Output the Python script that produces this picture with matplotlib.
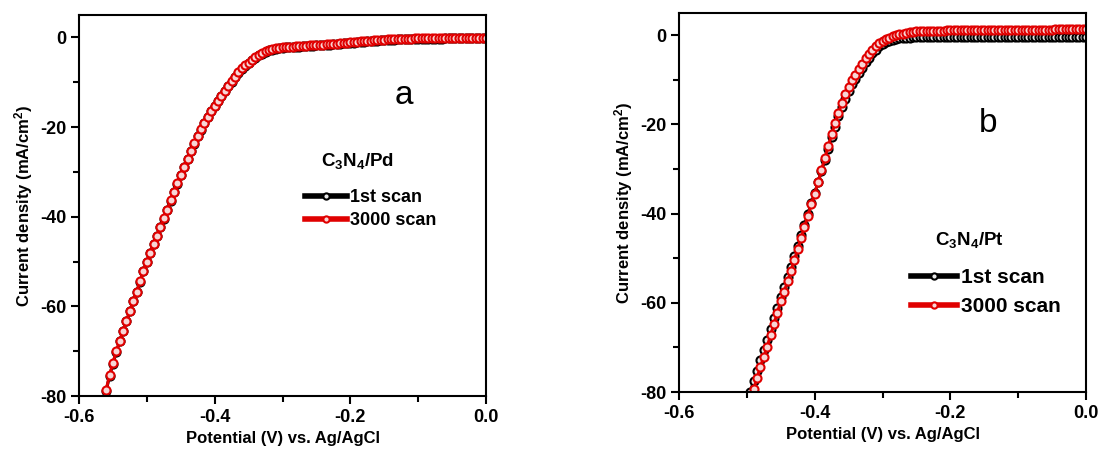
import numpy as np
import matplotlib
matplotlib.use("Agg")
import matplotlib.pyplot as plt

plt.rcParams['font.family'] = ['Liberation Sans', 'DejaVu Sans']
plt.rcParams['font.weight'] = 'bold'
plt.rcParams['mathtext.fontset'] = 'custom'
plt.rcParams['mathtext.rm'] = 'Liberation Sans:bold'
plt.rcParams['mathtext.bf'] = 'Liberation Sans:bold'
plt.rcParams['mathtext.it'] = 'Liberation Sans:bold:italic'
plt.rcParams['axes.unicode_minus'] = False

# ---------------- data: panel a (C3N4/Pd) ----------------
pot_a = [-0.560, -0.555, -0.550, -0.545, -0.540, -0.535, -0.530, -0.525, -0.520, -0.515,
         -0.510, -0.505, -0.500, -0.495, -0.490, -0.485, -0.480, -0.475, -0.470, -0.465,
         -0.460, -0.455, -0.450, -0.445, -0.440, -0.435, -0.430, -0.425, -0.420, -0.415,
         -0.410, -0.405, -0.400, -0.395, -0.390, -0.385, -0.380, -0.375, -0.370, -0.365,
         -0.360, -0.355, -0.350, -0.345, -0.340, -0.335, -0.330, -0.325, -0.320, -0.315,
         -0.310, -0.305, -0.300, -0.295, -0.290, -0.285, -0.280, -0.275, -0.270, -0.265,
         -0.260, -0.255, -0.250, -0.245, -0.240, -0.235, -0.230, -0.225, -0.220, -0.215,
         -0.210, -0.205, -0.200, -0.195, -0.190, -0.185, -0.180, -0.175, -0.170, -0.165,
         -0.160, -0.155, -0.150, -0.145, -0.140, -0.135, -0.130, -0.125, -0.120, -0.115,
         -0.110, -0.105, -0.100, -0.095, -0.090, -0.085, -0.080, -0.075, -0.070, -0.065,
         -0.060, -0.055, -0.050, -0.045, -0.040, -0.035, -0.030, -0.025, -0.020, -0.015,
         -0.010, -0.005, 0.000]

scan3000_a = [-78.6, -75.4, -72.6, -70.0, -67.7, -65.4, -63.2, -61.0, -58.8, -56.7,
              -54.4, -52.1, -50.1, -48.0, -46.1, -44.2, -42.3, -40.4, -38.4, -36.3,
              -34.4, -32.5, -30.6, -28.8, -27.1, -25.3, -23.6, -22.0, -20.5, -19.0,
              -17.7, -16.4, -15.2, -14.1, -13.0, -11.9, -10.8, -9.8, -8.8, -7.8,
              -6.9, -6.2, -5.6, -5.0, -4.4, -3.9, -3.5, -3.1, -2.8, -2.6,
              -2.4, -2.3, -2.2, -2.15, -2.10, -2.05, -2.00, -1.95, -1.90, -1.85,
              -1.80, -1.75, -1.70, -1.65, -1.60, -1.55, -1.50, -1.45, -1.40, -1.32,
              -1.25, -1.18, -1.10, -1.04, -0.98, -0.91, -0.85, -0.79, -0.72, -0.66,
              -0.60, -0.55, -0.50, -0.46, -0.42, -0.39, -0.36, -0.33, -0.30, -0.28,
              -0.26, -0.24, -0.22, -0.21, -0.20, -0.19, -0.18, -0.17, -0.16, -0.15,
              -0.14, -0.13, -0.12, -0.11, -0.10, -0.09, -0.08, -0.07, -0.06, -0.05,
              -0.04, -0.03, -0.02]

scan1_a = [-78.8, -75.6, -72.8, -70.2, -67.8, -65.5, -63.3, -61.1, -58.9, -56.8,
           -54.5, -52.2, -50.2, -48.1, -46.2, -44.3, -42.4, -40.5, -38.5, -36.4,
           -34.5, -32.6, -30.7, -28.9, -27.2, -25.4, -23.7, -22.1, -20.6, -19.1,
           -17.8, -16.5, -15.3, -14.2, -13.1, -12.0, -10.9, -9.9, -8.9, -7.9,
           -7.0, -6.3, -5.7, -5.1, -4.5, -4.0, -3.6, -3.2, -2.9, -2.7,
           -2.5, -2.4, -2.3, -2.25, -2.20, -2.15, -2.10, -2.05, -2.00, -1.95,
           -1.90, -1.85, -1.80, -1.75, -1.70, -1.65, -1.60, -1.55, -1.50, -1.42,
           -1.35, -1.28, -1.20, -1.14, -1.08, -1.01, -0.95, -0.89, -0.82, -0.76,
           -0.70, -0.65, -0.60, -0.56, -0.52, -0.49, -0.46, -0.43, -0.40, -0.38,
           -0.36, -0.34, -0.32, -0.31, -0.30, -0.29, -0.28, -0.27, -0.26, -0.25,
           -0.24, -0.23, -0.22, -0.21, -0.20, -0.19, -0.18, -0.17, -0.16, -0.15,
           -0.14, -0.13, -0.12]

# ---------------- data: panel b (C3N4/Pt) ----------------
pot_b = [-0.495, -0.490, -0.485, -0.480, -0.475, -0.470, -0.465, -0.460, -0.455, -0.450,
         -0.445, -0.440, -0.435, -0.430, -0.425, -0.420, -0.415, -0.410, -0.405, -0.400,
         -0.395, -0.390, -0.385, -0.380, -0.375, -0.370, -0.365, -0.360, -0.355, -0.350,
         -0.345, -0.340, -0.335, -0.330, -0.325, -0.320, -0.315, -0.310, -0.305, -0.300,
         -0.295, -0.290, -0.285, -0.280, -0.275, -0.270, -0.265, -0.260, -0.255, -0.250,
         -0.245, -0.240, -0.235, -0.230, -0.225, -0.220, -0.215, -0.210, -0.205, -0.200,
         -0.195, -0.190, -0.185, -0.180, -0.175, -0.170, -0.165, -0.160, -0.155, -0.150,
         -0.145, -0.140, -0.135, -0.130, -0.125, -0.120, -0.115, -0.110, -0.105, -0.100,
         -0.095, -0.090, -0.085, -0.080, -0.075, -0.070, -0.065, -0.060, -0.055, -0.050,
         -0.045, -0.040, -0.035, -0.030, -0.025, -0.020, -0.015, -0.010, -0.005, 0.000]

scan3000_b = [-81.8, -79.4, -76.8, -74.4, -72.1, -69.8, -67.3, -64.8, -62.2, -59.7,
              -57.5, -55.2, -52.8, -50.4, -48.0, -45.5, -43.0, -40.5, -37.9, -35.5,
              -33.0, -30.3, -27.6, -24.9, -22.2, -19.7, -17.4, -15.2, -13.2, -11.5,
              -10.0, -8.8, -7.6, -6.4, -5.2, -4.1, -3.2, -2.5, -1.8, -1.3,
              -0.9, -0.5, -0.2, 0.0, 0.2, 0.4, 0.55, 0.7, 0.8, 0.9,
              0.95, 0.98, 1.00, 1.02, 1.04, 1.05, 1.06, 1.07, 1.08, 1.09,
              1.10, 1.10, 1.11, 1.12, 1.12, 1.13, 1.14, 1.14, 1.15, 1.16,
              1.16, 1.17, 1.18, 1.18, 1.19, 1.20, 1.20, 1.21, 1.22, 1.22,
              1.23, 1.24, 1.24, 1.25, 1.26, 1.26, 1.27, 1.28, 1.28, 1.29,
              1.30, 1.30, 1.31, 1.32, 1.32, 1.33, 1.34, 1.34, 1.35, 1.36]

scan1_b = [-79.9, -77.6, -75.2, -72.9, -70.6, -68.3, -65.9, -63.5, -61.1, -58.7,
           -56.5, -54.2, -51.9, -49.6, -47.3, -44.9, -42.5, -40.1, -37.7, -35.4,
           -33.0, -30.5, -27.9, -25.4, -22.9, -20.5, -18.2, -16.1, -14.2, -12.5,
           -11.0, -9.7, -8.5, -7.3, -6.1, -5.0, -4.0, -3.2, -2.5, -2.0,
           -1.6, -1.3, -1.0, -0.8, -0.7, -0.6, -0.55, -0.50, -0.48, -0.46,
           -0.45, -0.45, -0.44, -0.44, -0.44, -0.43, -0.43, -0.43, -0.42, -0.42,
           -0.42, -0.41, -0.41, -0.41, -0.40, -0.40, -0.40, -0.40, -0.39, -0.39,
           -0.39, -0.39, -0.38, -0.38, -0.38, -0.38, -0.37, -0.37, -0.37, -0.37,
           -0.37, -0.36, -0.36, -0.36, -0.36, -0.36, -0.35, -0.35, -0.35, -0.35,
           -0.35, -0.35, -0.34, -0.34, -0.34, -0.34, -0.34, -0.34, -0.33, -0.33]

legend_labels = ["1st scan", "3000 scan"]
legend_titles = ["C$_3$N$_4$/Pd", "C$_3$N$_4$/Pt"]
panel_letters = ["a", "b"]
xticks = [-0.6, -0.4, -0.2, 0.0]
xtick_labels = ["-0.6", "-0.4", "-0.2", "0.0"]
yticks = [0, -20, -40, -60, -80]
ytick_labels = ["0", "-20", "-40", "-60", "-80"]

W, H = 1107, 458
fig = plt.figure(figsize=(W / 100, H / 100), dpi=100)
ax_a = fig.add_axes([79 / W, 1 - 396 / H, 407 / W, 381 / H])
ax_b = fig.add_axes([679 / W, 1 - 392 / H, 407 / W, 379 / H])

panels = [
    (ax_a, pot_a, scan1_a, scan3000_a),
    (ax_b, pot_b, scan1_b, scan3000_b),
]

# layout (pixel positions in the figure)
leg_cfg = [
    dict(x=305, y=209, fs=13, ls=0.34, hl=2.3, tp=0.17),
    dict(x=911, y=292, fs=15, ls=0.47, hl=2.2, tp=0.2),
]
title_cfg = [(357, 166, 13.5), (969, 245, 13.5)]
letter_cfg = [(404, 95), (988, 123)]

for i, (ax, pot, s1, s3) in enumerate(panels):
    ax.plot(pot, s1, color='black', lw=2.2, marker='o', ms=5.8, mew=1.5,
            mfc='#e8e8e8', mec='black', label=legend_labels[0])
    ax.plot(pot, s3, color='#e00000', lw=2.2, marker='o', ms=5.8, mew=1.5,
            mfc='#f7d6d6', mec='#e00000', label=legend_labels[1])
    ax.set_xlim(-0.6, 0.0)
    ax.set_ylim(-80, 5)
    ax.set_xticks(xticks)
    ax.set_xticklabels(xtick_labels)
    ax.set_yticks(yticks)
    ax.set_yticklabels(ytick_labels)
    ax.set_xticks([-0.5, -0.3, -0.1], minor=True)
    ax.set_yticks([-10, -30, -50, -70], minor=True)
    ax.tick_params(which='major', direction='out', length=6, width=1.5,
                   labelsize=13, pad=3)
    ax.tick_params(which='minor', direction='out', length=4, width=1.5)
    for sp in ax.spines.values():
        sp.set_linewidth(1.5)
    ax.set_xlabel("Potential (V) vs. Ag/AgCl", fontsize=12, fontweight='bold', labelpad=4)
    ax.set_ylabel("Current density (mA/cm$^2$)", fontsize=12, fontweight='bold', labelpad=4)

    c = leg_cfg[i]
    leg = ax.legend(loc='center left', bbox_to_anchor=(c['x'] / W, 1 - c['y'] / H),
                    bbox_transform=fig.transFigure, frameon=False,
                    fontsize=c['fs'], borderpad=0, borderaxespad=0,
                    handlelength=c['hl'], handletextpad=c['tp'], labelspacing=c['ls'],
                    numpoints=1)
    for t in leg.get_texts():
        t.set_fontweight('bold')
    for lh in leg.legend_handles:
        lh.set_linewidth(4)
        lh.set_markersize(4.5)

    tx, ty, tfs = title_cfg[i]
    fig.text(tx / W, 1 - ty / H, legend_titles[i], fontsize=tfs, fontweight='bold',
             ha='center', va='baseline')
    lx, ly = letter_cfg[i]
    fig.text(lx / W, 1 - ly / H, panel_letters[i], fontsize=24, fontweight='normal',
             ha='center', va='center')

fig.savefig("out.png", dpi=100)
